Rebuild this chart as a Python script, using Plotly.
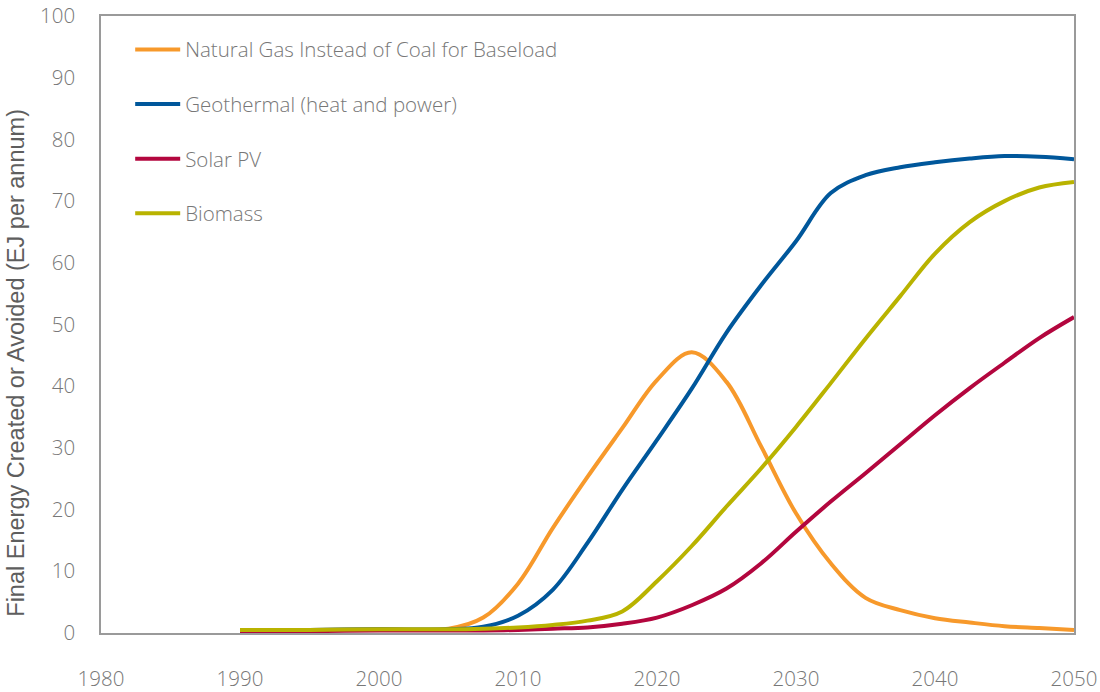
import plotly.graph_objects as go

# Years sampled for every series
years = [1990, 1995, 2000, 2005, 2007.5, 2010, 2012.5, 2015, 2017.5, 2020,
         2022.5, 2025, 2027.5, 2030, 2032.5, 2035, 2037.5, 2040, 2042.5,
         2045, 2047.5, 2050]

# Final energy created or avoided, EJ per annum
natural_gas = [0.5, 0.5, 0.6, 0.7, 2.5, 8.0, 17.0, 25.3, 33.2, 41.0,
               45.5, 40.7, 30.2, 19.4, 11.3, 5.7, 3.7, 2.4, 1.7,
               1.1, 0.8, 0.5]
geothermal = [0.5, 0.5, 0.6, 0.6, 1.0, 2.8, 7.0, 14.6, 23.2, 31.3,
              39.6, 48.7, 56.4, 63.5, 71.3, 74.2, 75.5, 76.3, 76.9,
              77.3, 77.2, 76.8]
solar_pv = [0.3, 0.3, 0.4, 0.4, 0.4, 0.5, 0.7, 0.9, 1.5, 2.5,
            4.5, 7.2, 11.3, 16.4, 21.3, 25.9, 30.6, 35.3, 39.7,
            43.8, 47.8, 51.2]
biomass = [0.5, 0.5, 0.6, 0.6, 0.7, 0.9, 1.3, 2.0, 3.5, 8.4,
           14.1, 20.5, 26.7, 33.4, 40.5, 47.7, 54.6, 61.5, 66.6,
           70.0, 72.2, 73.1]

series_names = ["Natural Gas Instead of Coal for Baseload",
                "Geothermal (heat and power)",
                "Solar PV",
                "Biomass"]
series_values = [natural_gas, geothermal, solar_pv, biomass]
series_colors = ["#f7992b", "#00579b", "#b3063e", "#b9b300"]

x_ticks = [1980, 1990, 2000, 2010, 2020, 2030, 2040, 2050]
y_ticks = [0, 10, 20, 30, 40, 50, 60, 70, 80, 90, 100]
y_title = "Final Energy Created or Avoided (EJ per annum)"

TEXT = "#777777"
TITLE = "#5e5e5e"
AXIS = "#9a9a9a"
LIGHT = "'Open Sans', Roboto, 'Liberation Sans', Arial, sans-serif"
REGULAR = "'Liberation Sans', Arial, Helvetica, sans-serif"

fig = go.Figure()
for i, (name, vals, col) in enumerate(zip(series_names, series_values, series_colors)):
    fig.add_trace(go.Scatter(
        x=years, y=vals, name=name, mode="lines",
        line=dict(color=col, width=4, shape="spline", smoothing=1.0),
        legendgroup=f"g{i}",
    ))

# Vertical axis title, placed as a rotated annotation left of the tick labels
fig.add_annotation(
    text=y_title, textangle=-90,
    xref="paper", yref="paper", x=-0.0874, y=0.438,
    xanchor="center", yanchor="middle", showarrow=False,
    font=dict(family=REGULAR, size=23.5, color=TITLE, weight=400),
)

fig.update_layout(
    width=1100, height=692,
    margin=dict(l=101, r=26, t=16, b=59, autoexpand=False),
    paper_bgcolor="white", plot_bgcolor="white",
    font=dict(family=LIGHT, size=20.5, color=TEXT, weight=300),
    showlegend=True,
    legend=dict(
        x=0.03, y=0.978, xanchor="left", yanchor="top",
        bgcolor="rgba(0,0,0,0)", borderwidth=0,
        tracegroupgap=25, itemwidth=45,
        font=dict(family=LIGHT, size=20.5, color=TEXT, weight=300),
    ),
    xaxis=dict(
        range=[1980, 2050], tickvals=x_ticks,
        showgrid=False, zeroline=False,
        showline=True, linecolor=AXIS, linewidth=1.5, mirror=True,
        ticks="outside", ticklen=27, tickcolor="rgba(0,0,0,0)",
        tickfont=dict(family=LIGHT, size=20.5, color=TEXT, weight=300),
    ),
    yaxis=dict(
        range=[0, 100], tickvals=y_ticks,
        showgrid=False, zeroline=False,
        showline=True, linecolor=AXIS, linewidth=1.5, mirror=True,
        ticks="outside", ticklen=20, tickcolor="rgba(0,0,0,0)",
        tickfont=dict(family=LIGHT, size=20.5, color=TEXT, weight=300),
    ),
)

fig.write_html("out.html")
